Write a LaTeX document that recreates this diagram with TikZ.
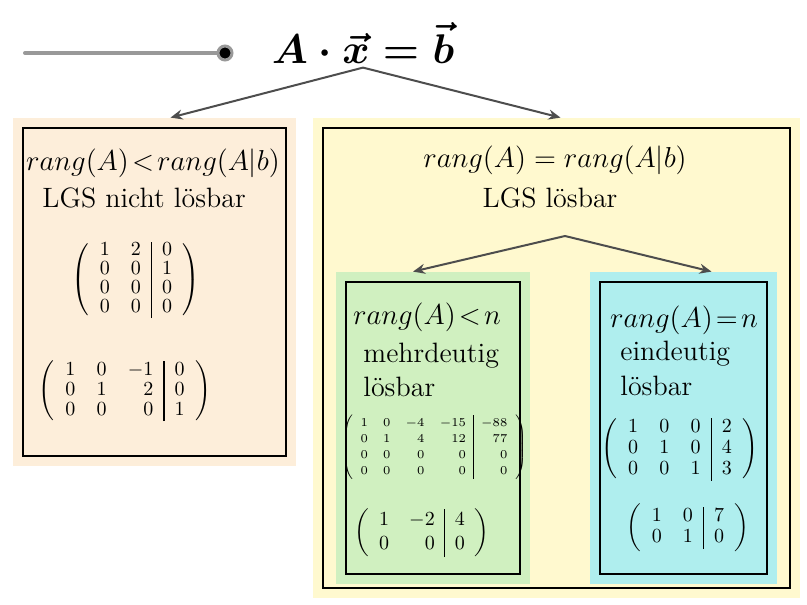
\documentclass[tikz,border=0pt]{standalone}
\usepackage{amsmath,amssymb}
\usepackage{xcolor}
\usepackage{tikz}
\usetikzlibrary{arrows.meta,positioning,calc}
\definecolor{peachbg}{HTML}{FDEEDA}
\definecolor{yellowbg}{HTML}{FFF9CF}
\definecolor{greenbg}{HTML}{D0F0C0}
\definecolor{cyanbg}{HTML}{AFEEEE}
\definecolor{argray}{HTML}{4D4D4D}
\newcommand{\matsize}[2]{\fontsize{#1}{#2}\selectfont}
\setlength{\arrayrulewidth}{0.7pt}
\tikzset{
  area/.style  = {rectangle, draw=none, inner sep=0pt},
  frame/.style = {draw=black, line width=1pt},
  ar/.style    = {-{Stealth[length=6pt,width=5pt]}, line width=1pt, draw=argray, fill=argray},
  txt/.style   = {inner sep=0pt, font=\fontsize{14}{17}\selectfont},
  mat/.style   = {inner sep=0pt, execute at begin node={\setlength{\arraycolsep}{#1}}},
  mat/.default = 5.3pt,
}
\begin{document}
\begin{tikzpicture}[x=0.5pt, y=-0.5pt]
  \useasboundingbox (0,0) rectangle (807,604);
  % slider at the top left
  \coordinate (start) at (25,53);
  \node[circle, fill=black, draw=gray!80, line width=1.5pt, inner sep=0pt, minimum size=7pt] (knob) at (225,53) {};
  \draw[gray!80, line width=2pt, line cap=round] (start) -- (knob);
  \node[inner sep=2pt, font=\fontsize{20.7}{25}\selectfont] (eq) at (363,43) {$\boldsymbol{A\cdot\vec{x}=\vec{b}}$};

  % coloured areas
  \node[area, fill=peachbg, minimum width=141.5pt, minimum height=174pt] (nolsg) at (154.5,292) {};
  \node[area, fill=yellowbg, minimum width=243.5pt, minimum height=240pt] (lsg) at (556.5,358) {};
  \node[area, fill=greenbg, minimum width=97pt, minimum height=156pt] (multi) at (433,428) {};
  \node[area, fill=cyanbg, minimum width=93.5pt, minimum height=156pt] (unique) at (683.5,428) {};
  \foreach \b in {nolsg,lsg,multi,unique}
    \draw[frame] ($(\b.north west)+(10,10)$) rectangle ($(\b.south east)-(10,10)$);

  \draw[ar] (eq.south) -- ([xshift=8pt]nolsg.north);
  \draw[ar] (eq.south) -- ([xshift=2pt]lsg.north);
  \coordinate (fork) at (565,236);
  \draw[ar] (fork) -- ([xshift=-10pt]multi.north);
  \draw[ar] (fork) -- ([xshift=14pt]unique.north);

  % not solvable
  \node[txt, anchor=base] (rk1) at (153,170) {$rang(A)\!<\!rang(A|b)$};
  \node[txt, anchor=base west] (t1) at (42,207) {LGS nicht lösbar};
  \node[mat, font=\matsize{10}{9.5}] (m1) at (136,280)
    {$\left(\begin{array}{rr|r}1&2&0\\0&0&1\\0&0&0\\0&0&0\end{array}\right)$};
  \node[mat, font=\matsize{10}{10}] (m2) at (125,391)
    {$\left(\begin{array}{rrr|r}1&0&-1&0\\0&1&2&0\\0&0&0&1\end{array}\right)$};

  % solvable
  \node[txt, anchor=base] (rk2) at (555,168) {$rang(A) = rang(A|b)$};
  \node[txt, anchor=base] (t2) at (550,207) {LGS lösbar};

  % many solutions
  \node[txt, anchor=base] (rk3) at (427,324) {$rang(A)\!<\!n$};
  \node[txt, anchor=base west] (t3) at (363,362) {mehrdeutig};
  \node[txt, anchor=base west] (t4) at (363,396) {lösbar};
  \node[mat=3.8pt, font=\matsize{6}{8}] (m3) at (434,447)
    {$\left(\begin{array}{rrrr|r}1&0&-4&-15&-88\\0&1&4&12&77\\0&0&0&0&0\\0&0&0&0&0\end{array}\right)$};
  \node[mat=5pt, font=\matsize{10}{12}] (m4) at (422,533)
    {$\left(\begin{array}{rr|r}1&-2&4\\0&0&0\end{array}\right)$};

  % one solution
  \node[txt, anchor=base] (rk4) at (684,327) {$rang(A)\!=\!n$};
  \node[txt, anchor=base west] (t5) at (620,360) {eindeutig};
  \node[txt, anchor=base west] (t6) at (620,395) {lösbar};
  \node[mat, font=\matsize{10}{10.5}] (m5) at (680,449)
    {$\left(\begin{array}{rrr|r}1&0&0&2\\0&1&0&4\\0&0&1&3\end{array}\right)$};
  \node[mat, font=\matsize{10}{10.5}] (m6) at (688,528)
    {$\left(\begin{array}{rr|r}1&0&7\\0&1&0\end{array}\right)$};
\end{tikzpicture}
\end{document}
